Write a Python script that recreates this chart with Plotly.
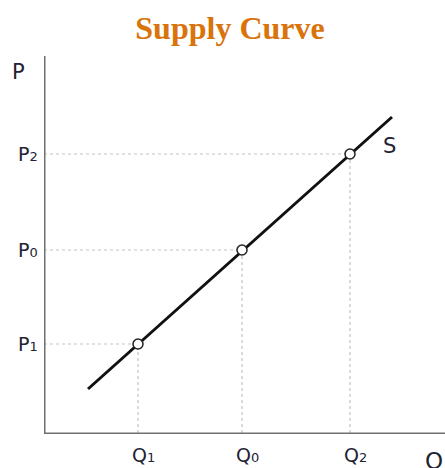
import plotly.graph_objects as go

# Data (plot units: pixels from the axes origin)
q_names = ["Q", "Q", "Q"]
q_subs = ["1", "0", "2"]
p_names = ["P", "P", "P"]
p_subs = ["1", "0", "2"]
q_values = [94, 198, 306]
p_values = [90, 184, 280]
curve_x = [44, 348]
curve_y = [45, 317]

W, H = 445, 468
L, R, T, B = 44, 0, 56, 34
x_max = W - L - R
y_max = H - T - B

fig = go.Figure()

# dotted guide lines
for q, p in zip(q_values, p_values):
    fig.add_trace(go.Scatter(x=[0, q, q], y=[p, p, 0], mode="lines",
                             line=dict(color="#c4c4c4", width=1.2, dash="dot"),
                             hoverinfo="skip", showlegend=False))

# supply curve
fig.add_trace(go.Scatter(x=curve_x, y=curve_y, mode="lines",
                         line=dict(color="#111111", width=3),
                         showlegend=False))

# points
fig.add_trace(go.Scatter(x=q_values, y=p_values, mode="markers",
                         marker=dict(size=10, color="white",
                                     line=dict(color="#222222", width=1.5)),
                         showlegend=False, cliponaxis=False))

# axes as shapes
fig.add_shape(type="line", x0=0, x1=0, y0=0, y1=y_max, xref="x", yref="y",
              line=dict(color="#707070", width=3))
fig.add_shape(type="line", x0=-1.5, x1=x_max, y0=0, y1=0, xref="x", yref="y",
              line=dict(color="#707070", width=3))

txt_color = "#222233"
font = dict(family="DejaVu Sans", size=19, color=txt_color)
big = dict(family="DejaVu Sans", size=21, color=txt_color)


def lab(name, sub):
    return f"{name}<span style='font-size:13px'>{sub}</span>"


ann = []
for n, s, q in zip(q_names, q_subs, q_values):
    ann.append(dict(x=q, y=0, xref="x", yref="y", text=lab(n, s), showarrow=False,
                    xanchor="center", yanchor="middle", yshift=-21, xshift=5,
                    font=font))
for n, s, p in zip(p_names, p_subs, p_values):
    ann.append(dict(x=0, y=p, xref="x", yref="y", text=lab(n, s), showarrow=False,
                    xanchor="right", yanchor="middle", xshift=-4, font=font))
ann.append(dict(x=0, y=y_max, xref="x", yref="y", text="P", showarrow=False,
                xanchor="center", yanchor="middle", xshift=-26, yshift=-16,
                font=big))
ann.append(dict(x=x_max, y=0, xref="x", yref="y", text="Q", showarrow=False,
                xanchor="center", yanchor="middle", xshift=-11, yshift=-27,
                font=dict(family="DejaVu Sans", size=23, color=txt_color)))
ann.append(dict(x=curve_x[1], y=curve_y[1], xref="x", yref="y", text="S",
                showarrow=False, xanchor="center", yanchor="middle",
                xshift=-3, yshift=-29, font=big))

fig.update_layout(
    width=W, height=H,
    margin=dict(l=L, r=R, t=T, b=B),
    paper_bgcolor="white", plot_bgcolor="white",
    title=dict(text="<b>Supply Curve</b>", x=230 / W, xanchor="center",
               y=1 - 27.5 / H, yanchor="middle",
               font=dict(family="Liberation Serif", size=32, color="#d9730b")),
    xaxis=dict(range=[0, x_max], visible=False, fixedrange=True),
    yaxis=dict(range=[0, y_max], visible=False, fixedrange=True),
    annotations=ann,
)

fig.write_html("out.html",
               config={"displayModeBar": False},
               post_script="document.body.style.margin='0';"
                           "document.body.style.overflow='hidden';")
